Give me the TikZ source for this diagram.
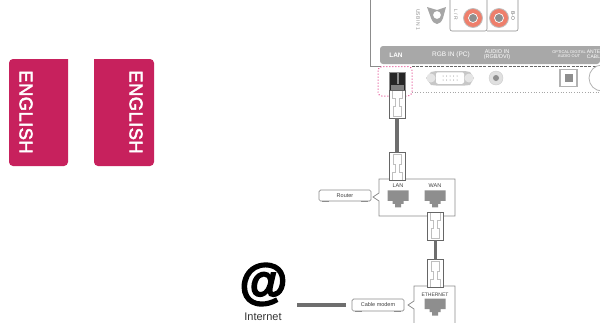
\documentclass[tikz,border=0pt]{standalone}
\usepackage{fontspec}
\setmainfont{Liberation Sans}
\newfontfamily\tabfont[FakeBold=2.6,LetterSpace=2]{Liberation Sans}
\newfontfamily\atfont[FakeBold=3.5]{Liberation Sans Bold}
\usepackage{xcolor}
\usetikzlibrary{positioning, calc}
\definecolor{tabred}{HTML}{C7215D}
\definecolor{bandgray}{HTML}{A8A8A8}
\definecolor{linegray}{HTML}{8C8C8C}
\definecolor{portgray}{HTML}{8E8E8E}
\definecolor{cablegray}{HTML}{6E6E6E}
\definecolor{jacksalmon}{HTML}{EE7F6C}
\definecolor{hotpink}{HTML}{E0408A}

\begin{document}
\begin{tikzpicture}[
  x=1pt, y=-1pt,
  every node/.style={inner sep=0pt, outer sep=0pt},
  tablbl/.style={font=\tabfont\fontsize{18.5}{19}\selectfont, text=white, rotate=-90},
  bandlbl/.style={font=\fontsize{6.5}{6.5}\selectfont, text=white, align=center},
  tinylbl/.style={font=\fontsize{4}{4}\selectfont, text=white, align=center},
  sidelbl/.style={font=\fontsize{5}{5}\selectfont, text=linegray, rotate=-90},
  portlbl/.style={font=\fontsize{5.5}{5.5}\selectfont, text=black!75},
  devbox/.style={rectangle, draw=linegray, fill=white, line width=0.7pt, rounded corners=1.5pt,
                 font=\fontsize{5.5}{5.5}\selectfont, text=black!75, minimum height=11pt},
  foot/.style={draw=linegray, line width=1pt},
  outline/.style={draw=linegray, line width=0.8pt},
  cable/.style={draw=cablegray, line width=3.4pt},
  plug/.style={rectangle, draw=black!60, fill=white, line width=0.6pt,
               minimum width=16pt, minimum height=#1},
  plugdown/.style={plug=28pt, path picture={
    \draw[black!25, line width=0.4pt, shift=(path picture bounding box.center)]
      (-5,14) -- (-5,6) -- (-2,6) -- (-2,-2) -- (-4,-2) -- (-4,-12) -- (4,-12)
      -- (4,-2) -- (2,-2) -- (2,6) -- (5,6) -- (5,14);}},
  plugup/.style={plug=28pt, path picture={
    \draw[black!25, line width=0.4pt, shift=(path picture bounding box.center)]
      (-5,-14) -- (-5,-6) -- (-2,-6) -- (-2,2) -- (-4,2) -- (-4,12) -- (4,12)
      -- (4,2) -- (2,2) -- (2,-6) -- (5,-6) -- (5,-14);}},
  netport/.style={rectangle, minimum width=21pt, minimum height=17pt, path picture={
    \fill[#1, shift=(path picture bounding box.center)]
      (-10.5,-8.5) -- (10.5,-8.5) -- (10.5,2) -- (5.5,2) -- (5.5,5) -- (3,5) -- (3,8.5)
      -- (-3,8.5) -- (-3,5) -- (-5.5,5) -- (-5.5,2) -- (-10.5,2) -- cycle;}},
  rcajack/.style={circle, draw=black!25, fill=jacksalmon, line width=0.8pt, minimum size=19pt},
  rcacore/.style={circle, draw=white, fill=portgray, line width=0.7pt, minimum size=9pt},
]
\useasboundingbox (0,0) rectangle (600,322);
\clip (0,0) rectangle (600,322);
% Language tabs
\fill[tabred, rounded corners=4pt] (68,59) -- (9,59) -- (9,166) -- (68,166) [sharp corners] -- cycle;
\fill[tabred, rounded corners=4pt] (94,59) -- (154,59) -- (154,166) -- (94,166) [sharp corners] -- cycle;
\node[tablbl] (tableft) at (26,112) {ENGLISH};
\node[tablbl] (tabright) at (136,112) {ENGLISH};
% TV panel
\draw[outline] (370,0) -- (370,66) -- (381,66);
\fill[bandgray, rounded corners=3pt] (600,46) -- (380,46) -- (380,64) -- (600,64) [sharp corners] -- cycle;
\draw[black!60, line width=0.6pt, dash pattern=on 3pt off 1.2pt] (412,66.5) -- (600,66.5);
\draw[black!35, line width=0.7pt, dotted] (412,92.5) -- (600,92.5);
\draw[hotpink, line width=1pt, dotted, rounded corners=4pt] (378,66.5) rectangle (412,96);
\node[bandlbl, font=\fontsize{6.5}{6.5}\selectfont\bfseries] (lanhdr) at (396,55) {LAN};
\node[bandlbl] (rgbhdr) at (451,55) {RGB IN (PC)};
\node[bandlbl, font=\fontsize{5.5}{5}\selectfont] (audiohdr) at (497,55) {AUDIO IN\\(RGB/DVI)};
\node[tinylbl] (opticalhdr) at (569,54.5) {OPTICAL DIGITAL\\AUDIO OUT};
\node[tinylbl, font=\fontsize{5}{4.5}\selectfont] (antennahdr) at (593.5,54.5) {ANTE\\CABL};
% Upper jacks
\node[sidelbl] (usblbl) at (418,19.5) {USB IN 1};
\fill[black!35, even odd rule] (427,7) -- (431,18) .. controls (434,26) and (440,26) .. (443,18) -- (446,7) -- (437,10) -- cycle
  (437,15) circle (4);
\draw[outline, line width=0.6pt, rounded corners=2pt] (450,0) -- (450,31) -- (487,31) -- (487,0);
\draw[outline, line width=0.6pt, rounded corners=2pt] (487,31) -- (518,31) -- (518,0);
\node[sidelbl] (lrlbl) at (456,15) {L / R};
\node[sidelbl, text=black!60] (outlbl) at (513,16) {B-O};
\node[rcajack] (jackl) at (473,18) {};
\node[rcacore] at (jackl) {};
\node[rcajack] (jackr) at (499,18) {};
\node[rcacore] at (jackr) {};
% TV ports
\node[rectangle, draw=black!45, fill=black!85, line width=0.6pt, minimum width=16pt, minimum height=18pt] (tvlan) at (397.5,81) {};
\fill[black!45] (396.5,73) rectangle (398.5,84);
\fill[black!50] (391,85) rectangle (404,90);
\fill[black!22] (426,78) -- (431,72) -- (436,71) -- (465,71) -- (470,72) -- (474,78) -- (470,85) -- (465,85.5) -- (436,85.5) -- (431,85) -- cycle;
\node[circle, fill=black!10, minimum size=9pt] (vgaleft) at (431,78) {};
\node[circle, fill=black!10, minimum size=9pt] (vgaright) at (469,78) {};
\node[rectangle, rounded corners=2pt, fill=white, minimum width=28pt, minimum height=11.5pt] (vga) at (450,78) {};
\foreach \i in {0,...,4} {\fill[black!50] (443+\i*3.5,76) circle (0.5); \fill[black!50] (443+\i*3.5,80) circle (0.5);}
\node[circle, fill=black!12, draw=black!20, minimum size=14pt] (audiojack) at (496,78) {};
\node[circle, fill=portgray, minimum size=6pt] at (audiojack) {};
\node[rectangle, draw=black!30, line width=1.6pt, fill=white, minimum size=17pt] (optical) at (568.5,78) {};
\node[rectangle, fill=portgray, minimum size=8pt] at (optical) {};
\node[circle, draw=black!30, line width=0.8pt, fill=white, minimum size=26pt] (antenna) at (602,78) {};
% Router box
\draw[outline, fill=white] (379,179) -- (455,179) -- (455,216) -- (379,216) -- (379,201) -- (373,197) -- (379,193) -- cycle;
\node[devbox, minimum width=52pt] (router) at (345,195.5) {Router};
\draw[foot] ([xshift=3pt]router.south west) -- +(7,0);
\draw[foot] ([xshift=-3pt]router.south east) -- +(-7,0);
\node[portlbl] (lanlbl) at (398,186) {LAN};
\node[portlbl] (wanlbl) at (435,186) {WAN};
\node[netport=portgray, below=2.5pt of lanlbl] (lanport) {};
\node[netport=portgray, below=2.5pt of wanlbl] (wanport) {};
% Modem box
\draw[outline, fill=white] (414,286) -- (455,286) -- (455,330) -- (414,330) -- (414,309) -- (408,305) -- (414,301) -- cycle;
\node[devbox, minimum width=52pt, minimum height=12pt] (modem) at (378,305) {Cable modem};
\draw[foot] ([xshift=3pt]modem.south west) -- +(7,0);
\draw[foot] ([xshift=-3pt]modem.south east) -- +(-7,0);
\node[portlbl, font=\fontsize{5}{5}\selectfont] (ethlbl) at (435,295) {ETHERNET};
\node[netport=portgray, below=2pt of ethlbl] (ethport) {};
% Plugs
\node[plugup] (plugtv) at (397,104) {};
\node[plugdown] (pluglan) at (397,166.5) {};
\node[plugup] (plugwan) at (435.5,226) {};
\node[plugdown] (plugeth) at (435.5,273.5) {};
% Cables
\draw[cable] (plugtv) -- (pluglan);
\draw[cable] (plugwan) -- (plugeth);
% Internet
\node[font=\atfont\fontsize{49}{49}\selectfont] (at) at (263.5,284.5) {@};
\node[font=\fontsize{11}{11}\selectfont, text=black!80] (internet) at (263,317) {Internet};
\coordinate (netend) at (297,305);
\draw[cable] (netend) -- ([xshift=-6pt]modem.west);
\end{tikzpicture}
\end{document}
